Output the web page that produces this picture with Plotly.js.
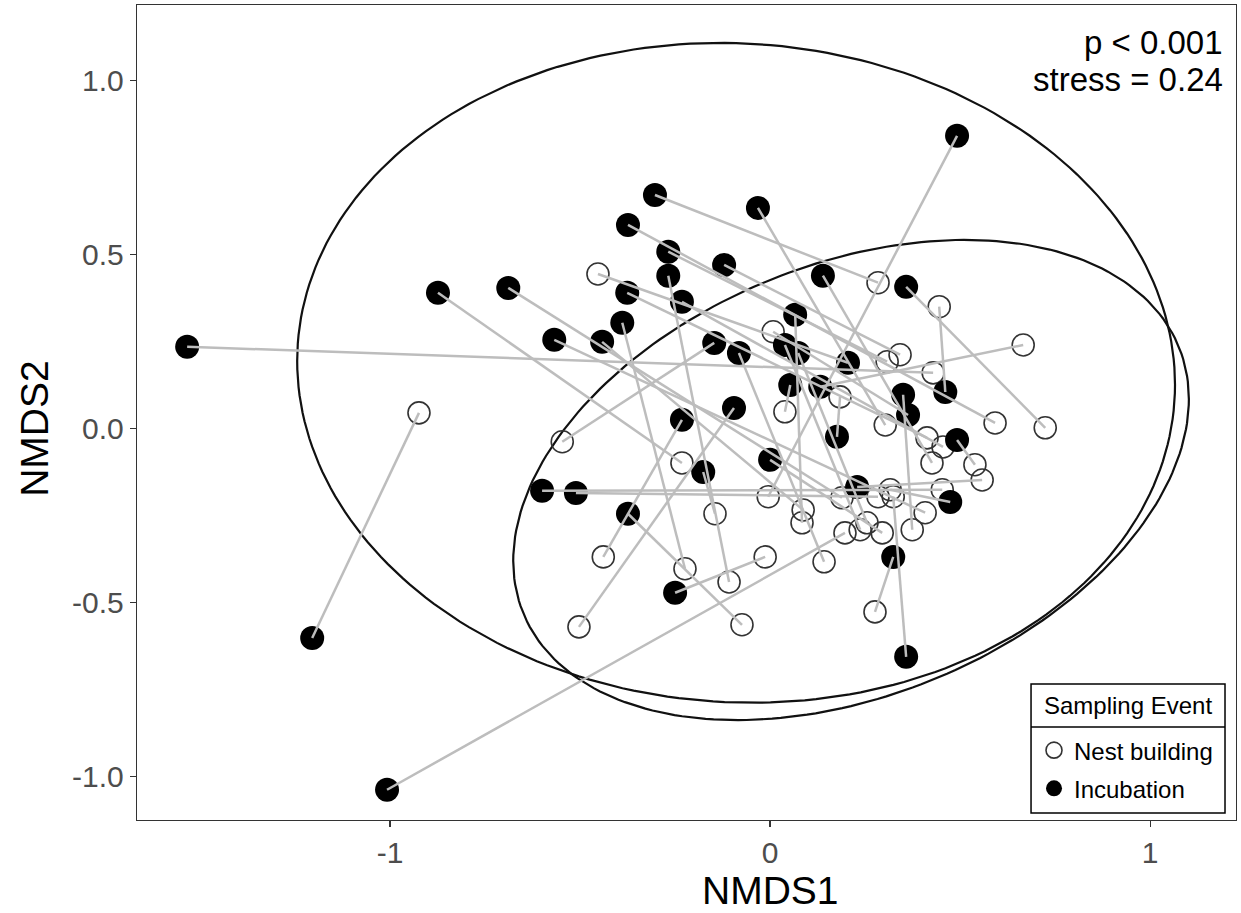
<!DOCTYPE html>
<html>
<head>
<meta charset="utf-8">
<script src="https://cdn.plot.ly/plotly-3.0.1.min.js"></script>
<style>html,body{margin:0;padding:0;background:#fff;}#chart{width:1241px;height:913px;}</style>
</head>
<body>
<div id="chart"></div>
<script>
// Paired NMDS scores: index i of nest-building arrays pairs with index i of incubation arrays
const incX = [-1.534,-0.874,-0.689,-1.205,-1.008,-0.600,-0.511,-0.568,-0.442,-0.389,-0.376,-0.374,-0.303,-0.268,-0.268,-0.232,-0.121,-0.147,-0.082,-0.032,-0.232,-0.095,-0.176,-0.374,-0.250,0.000,0.066,0.039,0.074,0.053,0.132,0.139,0.205,0.176,0.229,0.324,0.358,0.358,0.350,0.363,0.461,0.492,0.474,0.492];
const incY = [0.236,0.391,0.405,-0.601,-1.037,-0.178,-0.184,0.256,0.250,0.305,0.391,0.586,0.672,0.509,0.440,0.365,0.471,0.247,0.218,0.635,0.026,0.060,-0.124,-0.244,-0.471,-0.089,0.328,0.241,0.218,0.126,0.121,0.440,0.190,-0.023,-0.167,-0.368,-0.655,0.408,0.098,0.040,0.106,-0.032,-0.210,0.842];
const nestX = [0.429,-0.232,0.189,-0.924,0.197,0.453,0.284,0.408,0.087,-0.224,0.413,0.592,0.284,0.308,-0.108,0.455,0.342,-0.547,0.142,0.303,-0.439,-0.503,-0.145,-0.074,-0.013,0.295,0.084,0.237,0.255,0.039,0.666,0.426,-0.453,0.184,0.558,0.276,0.324,0.724,0.374,0.008,0.445,0.539,0.316,-0.005];
const nestY = [0.161,-0.098,-0.198,0.046,-0.299,-0.175,-0.195,-0.241,-0.233,-0.402,-0.026,0.017,0.420,0.193,-0.440,-0.052,0.213,-0.037,-0.382,0.011,-0.368,-0.569,-0.244,-0.563,-0.368,-0.299,-0.270,-0.290,-0.270,0.049,0.241,-0.098,0.445,0.092,-0.147,-0.526,-0.195,0.003,-0.290,0.279,0.351,-0.103,-0.175,-0.195];

// Ellipse parameters (centre, half-extents, correlation) for each sampling event
const ellNames = ['Incubation','Nest building'];
const ellCx = [-0.0895, 0.213];
const ellCy = [0.161, -0.147];
const ellWx = [1.155, 0.889];
const ellHy = [0.948, 0.690];
const ellRho = [-0.036, 0.337];

const xTickVals = [-1, 0, 1];
const xTickText = ['-1', '0', '1'];
const yTickVals = [-1, -0.5, 0, 0.5, 1];
const yTickText = ['-1.0', '-0.5', '0.0', '0.5', '1.0'];

const FONT = 'Liberation Sans, Arial, Helvetica, sans-serif';

const traces = [];
for (let k = 0; k < ellCx.length; k++) {
  const ex = [], ey = [];
  const n = 240;
  const s = Math.sqrt(1 - ellRho[k] * ellRho[k]);
  for (let i = 0; i <= n; i++) {
    const t = 2 * Math.PI * i / n;
    ex.push(ellCx[k] + ellWx[k] * Math.cos(t));
    ey.push(ellCy[k] + ellHy[k] * (ellRho[k] * Math.cos(t) + s * Math.sin(t)));
  }
  traces.push({x: ex, y: ey, mode: 'lines', type: 'scatter', showlegend: false, hoverinfo: 'skip',
    name: ellNames[k] + ' ellipse', line: {color: '#111', width: 2.2}});
}
traces.push({x: nestX, y: nestY, mode: 'markers', type: 'scatter', name: 'Nest building', legendgroup: 'a',
  marker: {symbol: 'circle', size: 22, color: 'rgba(255,255,255,0)', line: {color: '#333', width: 1.6}}});
traces.push({x: incX, y: incY, mode: 'markers', type: 'scatter', name: 'Incubation', legendgroup: 'b',
  marker: {symbol: 'circle', size: 24, color: '#000', line: {width: 0}}});
const segX = [], segY = [];
for (let i = 0; i < incX.length; i++) {
  segX.push(incX[i], nestX[i], null);
  segY.push(incY[i], nestY[i], null);
}
traces.push({x: segX, y: segY, mode: 'lines', type: 'scatter', showlegend: false, hoverinfo: 'skip',
  line: {color: '#bdbdbd', width: 2.5}});

const layout = {
  width: 1241, height: 913,
  margin: {l: 137, r: 5, t: 5, b: 93},
  paper_bgcolor: '#fff', plot_bgcolor: '#fff',
  font: {family: FONT, color: '#000'},
  showlegend: true,
  xaxis: {range: [-1.666, 1.226], tickvals: xTickVals, ticktext: xTickText,
    showgrid: false, zeroline: false, showline: true, mirror: true, linecolor: '#333', linewidth: 1.2,
    ticks: 'outside', ticklen: 6, tickwidth: 1.2, tickcolor: '#333',
    tickfont: {size: 30, color: '#4d4d4d', family: FONT}},
  yaxis: {range: [-1.124, 1.218], tickvals: yTickVals, ticktext: yTickText,
    showgrid: false, zeroline: false, showline: true, mirror: true, linecolor: '#333', linewidth: 1.2,
    ticks: 'outside', ticklen: 6, tickwidth: 1.2, tickcolor: '#333',
    tickfont: {size: 30, color: '#4d4d4d', family: FONT}},
  legend: {x: 0.8162, xanchor: 'left', y: 0.1128, yanchor: 'top',
    bgcolor: 'rgba(0,0,0,0)', borderwidth: 0,
    font: {size: 24, color: '#000', family: FONT},
    itemwidth: 30, tracegroupgap: 4},
  annotations: [
    {xref: 'x', yref: 'paper', x: 0, y: -0.0859, xanchor: 'center', yanchor: 'middle',
     text: 'NMDS1', showarrow: false, font: {size: 39, color: '#000', family: FONT}},
    {xref: 'paper', yref: 'y', x: -0.0928, y: 0, xanchor: 'center', yanchor: 'middle', textangle: -90,
     text: 'NMDS2', showarrow: false, font: {size: 39, color: '#000', family: FONT}},
    {xref: 'paper', yref: 'paper', x: 0.99, y: 0.9546, xanchor: 'right', yanchor: 'middle',
     text: 'p < 0.001', showarrow: false, font: {size: 33, color: '#000', family: FONT}},
    {xref: 'paper', yref: 'paper', x: 0.99, y: 0.908, xanchor: 'right', yanchor: 'middle',
     text: 'stress = 0.24', showarrow: false, font: {size: 33, color: '#000', family: FONT}},
    {xref: 'paper', yref: 'paper', x: 0.9017, y: 0.1399, xanchor: 'center', yanchor: 'middle',
     text: 'Sampling Event', showarrow: false, font: {size: 24, color: '#000', family: FONT}}
  ],
  shapes: [
    {type: 'rect', xref: 'paper', yref: 'paper', x0: 0.8135, x1: 0.99, y0: 0.0086, y1: 0.1669,
     fillcolor: '#fff', line: {color: '#000', width: 1.5}, layer: 'above'},
    {type: 'line', xref: 'paper', yref: 'paper', x0: 0.8135, x1: 0.99, y0: 0.1141, y1: 0.1141,
     line: {color: '#000', width: 1.5}, layer: 'above'}
  ]
};

Plotly.newPlot('chart', traces, layout, {displayModeBar: false, staticPlot: true});
</script>
</body>
</html>
